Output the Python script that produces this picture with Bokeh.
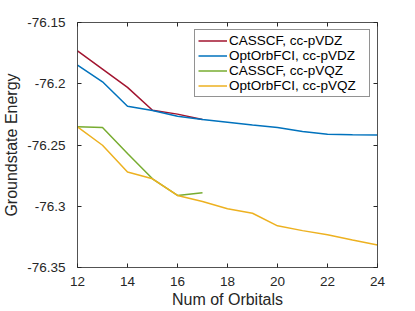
from bokeh.plotting import figure
from bokeh.models import LinearAxis, FixedTicker, Range1d, Legend, LegendItem, CustomJSTickFormatter
from bokeh.embed import file_html
from bokeh.resources import INLINE

# Data
orbitals = [12, 13, 14, 15, 16, 17, 18, 19, 20, 21, 22, 23, 24]
casscf_vdz_x = [12, 13, 14, 15, 16, 17]
casscf_vdz = [-76.1732, -76.1880, -76.2030, -76.2216, -76.2248, -76.2292]
optorb_vdz = [-76.1847, -76.1984, -76.2183, -76.2218, -76.2265, -76.2292,
              -76.2314, -76.2336, -76.2357, -76.2390, -76.2412, -76.2416, -76.2418]
casscf_vqz_x = [12, 13, 14, 15, 16, 17]
casscf_vqz = [-76.2352, -76.2357, -76.2570, -76.2776, -76.2912, -76.2890]
optorb_vqz = [-76.2352, -76.2502, -76.2721, -76.2776, -76.2912, -76.2961,
              -76.3021, -76.3057, -76.3160, -76.3199, -76.3232, -76.3275, -76.3316]
xticks = [12, 14, 16, 18, 20, 22, 24]
yticks = [-76.35, -76.3, -76.25, -76.2, -76.15]
names = ["CASSCF, cc-pVDZ", "OptOrbFCI, cc-pVDZ", "CASSCF, cc-pVQZ", "OptOrbFCI, cc-pVQZ"]
colors = ["#A2142F", "#0072BD", "#77AC30", "#EDB120"]

FONT = "Liberation Sans"
AX = "#262626"

p = figure(width=415, height=311, output_backend="svg", toolbar_location=None,
           x_range=Range1d(12, 24), y_range=Range1d(-76.35, -76.15),
           min_border_left=76, min_border_right=38, min_border_top=22, min_border_bottom=44,
           x_axis_label="Num of Orbitals", y_axis_label="Groundstate Energy")
p.xgrid.visible = False
p.ygrid.visible = False
p.outline_line_color = None

fmt = CustomJSTickFormatter(code="return String(parseFloat(tick.toFixed(4)));")
blank = CustomJSTickFormatter(code="return '';")

top = LinearAxis(ticker=FixedTicker(ticks=xticks), formatter=blank)
right = LinearAxis(ticker=FixedTicker(ticks=yticks), formatter=blank)
p.add_layout(top, "above")
p.add_layout(right, "right")

for ax in p.xaxis:
    ax.ticker = FixedTicker(ticks=xticks)
    ax.major_label_standoff = 9
    ax.axis_label_standoff = 2
for ax in p.yaxis:
    ax.ticker = FixedTicker(ticks=yticks)
    ax.major_label_standoff = 12
    ax.axis_label_standoff = 4
p.yaxis[0].formatter = fmt

for ax in p.xaxis + p.yaxis:
    ax.major_tick_in = 4
    ax.major_tick_out = 0
    ax.minor_tick_in = 0
    ax.minor_tick_out = 0
    ax.axis_line_color = AX
    ax.major_tick_line_color = AX
    ax.axis_line_width = 0.8
    ax.major_label_text_font = FONT
    ax.major_label_text_font_size = "13.5px"
    ax.major_label_text_color = AX
    ax.axis_label_text_font = FONT
    ax.axis_label_text_font_size = "16px"
    ax.axis_label_text_font_style = "normal"
    ax.axis_label_text_color = AX
top.major_label_standoff = 0
right.major_label_standoff = 0

r1 = p.line(casscf_vdz_x, casscf_vdz, line_color=colors[0], line_width=1.5)
r2 = p.line(orbitals, optorb_vdz, line_color=colors[1], line_width=1.5)
r3 = p.line(casscf_vqz_x, casscf_vqz, line_color=colors[2], line_width=1.5)
r4 = p.line(orbitals, optorb_vqz, line_color=colors[3], line_width=1.5)

legend = Legend(items=[LegendItem(label=n, renderers=[r]) for n, r in zip(names, [r1, r2, r3, r4])],
                location="top_right", margin=7, padding=3, spacing=0,
                label_text_font=FONT, label_text_font_size="13.5px", label_text_color="#000000",
                label_height=15, label_width=137, glyph_height=15, glyph_width=29, label_standoff=2,
                border_line_color=AX, border_line_width=0.8, background_fill_color="white")
p.add_layout(legend, "center")

open("out.html", "w").write(file_html(p, INLINE))
